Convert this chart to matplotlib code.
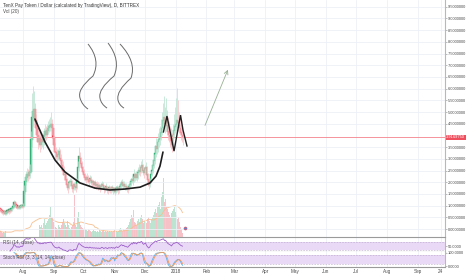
import numpy as np
import pandas as pd
import matplotlib
matplotlib.use('Agg')
import matplotlib.pyplot as plt
import matplotlib.dates as mdates
from matplotlib.path import Path
from matplotlib.patches import PathPatch

plt.rcParams['font.family'] = ['Liberation Sans', 'DejaVu Sans']

# daily candles, first day 2017-07-09
start = '2017-07-09'
first_open = 0.84
close = [0.82, 0.78, 0.74, 0.70, 0.72, 0.66, 0.70, 0.76, 0.74, 0.80, 0.78, 0.84, 0.88,
         0.95, 1.10, 1.05, 0.98, 0.92, 0.96, 0.90, 0.94, 0.98, 0.95, 1.00,
         1.60, 2.00, 2.20, 2.30, 2.25, 2.40, 2.45,
         3.80, 4.75, 5.00, 5.10,
         4.60, 4.30, 4.00, 3.70, 3.90, 3.60, 3.70, 3.80, 3.70, 4.00, 4.15,
         4.00, 4.20, 4.30, 4.35, 4.40, 4.45, 4.30,
         3.90, 3.60, 3.30, 3.25, 3.10, 3.15,
         3.30, 3.00, 2.90, 2.70, 2.50, 2.30,
         2.30, 2.10, 1.90, 1.75, 1.95, 2.00,
         2.00, 1.85, 1.70, 1.90, 1.80, 1.75, 2.00,
         2.60, 3.10, 3.00,
         2.80, 2.60, 2.45, 2.30, 2.20, 2.10,
         2.20, 2.10, 2.00, 2.15, 2.05, 1.95, 2.00, 1.90, 1.95,
         1.85, 1.90, 1.80, 1.85, 1.75, 1.80, 1.90, 1.85, 1.70, 1.75, 1.80, 1.70, 1.65, 1.75, 1.70,
         1.70, 1.75, 1.65, 1.70, 1.60, 1.70, 1.75, 1.65, 1.70, 1.80, 1.90, 1.95, 1.85, 1.90, 1.80,
         1.80, 1.75, 1.70, 1.80, 1.90, 2.00, 2.10, 2.05, 2.30, 2.20,
         2.30, 2.20, 2.40, 2.50, 2.45, 2.60, 2.70, 2.50, 2.40, 2.55,
         2.60, 2.30, 2.10, 1.90, 2.00, 2.30, 2.50,
         2.70, 2.90, 3.20, 3.50, 3.40, 3.70, 3.80, 3.90, 4.10, 4.30, 4.60, 4.75, 4.50, 4.60, 4.40,
         4.15, 4.00, 3.90, 3.75, 3.60, 4.00, 4.20, 4.35, 4.45, 4.60, 4.55, 4.40, 4.30, 4.10, 4.00, 3.917]
high = [0.90, 0.86, 0.80, 0.78, 0.80, 0.76, 0.76, 0.82, 0.82, 0.86, 0.86, 0.92, 0.96,
        1.05, 1.25, 1.18, 1.08, 1.00, 1.02, 0.98, 1.02, 1.05, 1.04, 1.10,
        1.90, 2.30, 2.50, 2.60, 2.55, 2.70, 2.80,
        4.20, 5.80, 6.10, 5.90,
        5.40, 4.90, 4.60, 4.30, 4.20, 4.10, 4.00, 4.10, 4.00, 4.30, 4.50,
        4.40, 4.50, 4.60, 4.70, 4.80, 5.00, 4.70,
        4.40, 4.00, 3.70, 3.50, 3.40, 3.40,
        3.50, 3.40, 3.20, 3.00, 2.90, 2.70,
        2.50, 2.40, 2.20, 2.00, 2.10, 2.20,
        2.20, 2.10, 1.95, 2.00, 2.00, 1.95, 2.20,
        2.90, 3.50, 3.30,
        3.10, 2.90, 2.70, 2.55, 2.40, 2.30,
        2.40, 2.30, 2.20, 2.30, 2.25, 2.15, 2.10, 2.05, 2.10,
        2.00, 2.05, 2.00, 1.95, 1.90, 1.95, 2.05, 2.00, 1.90, 1.85, 1.95, 1.85, 1.80, 1.90, 1.85,
        1.85, 1.90, 1.80, 1.80, 1.75, 1.85, 1.90, 1.80, 1.85, 1.95, 2.10, 2.15, 2.05, 2.05, 1.95,
        1.95, 1.90, 1.85, 1.95, 2.05, 2.20, 2.30, 2.25, 2.55, 2.45,
        2.50, 2.45, 2.65, 2.80, 2.70, 2.90, 3.00, 2.80, 2.65, 2.75,
        2.85, 2.70, 2.40, 2.20, 2.20, 2.50, 2.80,
        3.00, 3.20, 3.60, 3.90, 3.80, 4.10, 4.30, 4.40, 4.70, 5.00, 5.40, 5.70, 5.20, 5.60, 5.10,
        4.80, 4.60, 4.40, 4.30, 4.10, 4.50, 4.90, 5.20, 5.60, 6.05, 5.50, 5.00, 4.80, 4.60, 4.40, 4.20]
low = [0.72, 0.70, 0.66, 0.62, 0.64, 0.60, 0.60, 0.64, 0.68, 0.66, 0.70, 0.74, 0.78,
       0.84, 0.92, 0.95, 0.88, 0.85, 0.86, 0.84, 0.86, 0.90, 0.88, 0.92,
       0.95, 1.50, 1.90, 2.10, 2.05, 2.15, 2.20,
       2.40, 3.50, 4.40, 4.60,
       4.30, 4.00, 3.70, 3.40, 3.50, 3.30, 3.40, 3.50, 3.40, 3.60, 3.90,
       3.80, 3.90, 4.10, 4.15, 4.20, 4.20, 4.00,
       3.60, 3.30, 3.00, 3.00, 2.90, 2.95,
       3.00, 2.80, 2.70, 2.50, 2.30, 2.10,
       2.10, 1.85, 1.65, 1.55, 1.70, 1.85,
       1.80, 1.60, 1.55, 1.65, 1.65, 1.60, 1.70,
       1.95, 2.50, 2.70,
       2.60, 2.40, 2.25, 2.10, 2.05, 1.95,
       2.00, 1.95, 1.85, 1.95, 1.90, 1.80, 1.85, 1.75, 1.80,
       1.70, 1.75, 1.65, 1.70, 1.60, 1.65, 1.70, 1.70, 1.55, 1.60, 1.65, 1.55, 1.50, 1.60, 1.55,
       1.55, 1.60, 1.50, 1.55, 1.45, 1.55, 1.60, 1.50, 1.55, 1.65, 1.75, 1.80, 1.70, 1.75, 1.65,
       1.65, 1.60, 1.55, 1.65, 1.75, 1.85, 1.95, 1.90, 2.00, 2.05,
       2.10, 2.05, 2.15, 2.30, 2.25, 2.40, 2.45, 2.30, 2.20, 2.35,
       2.30, 2.05, 1.85, 1.70, 1.80, 1.95, 2.25,
       2.40, 2.60, 2.80, 3.10, 3.20, 3.30, 3.50, 3.60, 3.80, 4.00, 4.20, 4.30, 4.10, 4.20, 4.00,
       3.80, 3.70, 3.50, 3.40, 3.30, 3.50, 3.90, 4.10, 4.20, 4.30, 4.20, 4.10, 4.00, 3.80, 3.70, 3.60]
volume = [6, 5, 4, 5, 4, 6, 5, 4, 5, 4, 6, 5, 7,
          10, 14, 9, 7, 6, 5, 6, 5, 6, 5, 8,
          18, 20, 14, 12, 10, 12, 15,
          40, 55, 30, 22,
          25, 18, 15, 20, 14, 12, 10, 12, 9, 14, 18,
          12, 14, 16, 18, 22, 30, 20,
          20, 15, 12, 10, 9, 8,
          12, 10, 9, 12, 15, 18,
          14, 12, 10, 16, 12, 9,
          8, 10, 12, 15, 42, 12, 10,
          20, 25, 15,
          12, 10, 9, 8, 10, 8,
          7, 6, 8, 7, 6, 5, 6, 7, 6,
          6, 5, 6, 5, 7, 6, 5, 6, 7, 5, 6, 5, 6, 5, 6,
          5, 6, 5, 6, 7, 5, 6, 5, 6, 8, 9, 7, 6, 8, 7,
          8, 9, 10, 12, 15, 18, 22, 20, 27, 15,
          14, 12, 16, 18, 15, 20, 22, 18, 14, 16,
          15, 14, 18, 20, 16, 14, 18,
          20, 22, 25, 28, 24, 30, 32, 35, 28, 40, 45, 59, 35, 38, 30,
          28, 25, 22, 20, 24, 26, 28, 30, 25, 22, 18, 20, 15, 10, 8, 4]
last_price = 3.9169750

# hand drawn marks: (days after 2017-08-01, price)
cup_days = [12.0, 22.1, 32.1, 42.1, 57.2, 72.2, 87.3, 102.3, 117.4, 127.4, 133.4, 137.4, 140.4]
cup_price = [4.70, 3.72, 2.95, 2.44, 1.97, 1.75, 1.67, 1.71, 1.79, 1.97, 2.26, 2.69, 3.29]
zig_days = [140.9, 144.4, 151.5, 158.0, 160.5, 164.5]
zig_price = [4.15, 4.83, 3.33, 4.87, 4.23, 3.55]
steam = [
    ([65.2, 78.2, 70.2, 54.2, 57.2, 59.2, 65.2], [7.91, 7.22, 6.54, 5.98, 5.60, 5.30, 5.13]),
    ([85.3, 98.3, 91.3, 75.2, 77.2, 78.2, 84.3], [7.95, 7.22, 6.54, 5.98, 5.60, 5.34, 5.17]),
    ([97.3, 114.3, 108.3, 93.3, 95.3, 96.3, 101.3], [7.91, 7.14, 6.45, 5.90, 5.51, 5.30, 5.17]),
]
arrow_days = [181.5, 206.6]
arrow_price = [4.32, 6.92]

month_ticks = ['2017-08-01', '2017-09-01', '2017-10-01', '2017-11-01', '2017-12-01', '2018-01-01',
               '2018-02-01', '2018-03-01', '2018-04-01', '2018-05-01', '2018-06-01', '2018-07-01',
               '2018-08-01', '2018-09-01', '2018-09-24']
month_labels = ['Aug', 'Sep', 'Oct', 'Nov', 'Dec', '2018', 'Feb', 'Mar', 'Apr', 'May', 'Jun', 'Jul',
                'Aug', 'Sep', '24']
price_ticks = [0.0, 0.5, 1.0, 1.5, 2.0, 2.5, 3.0, 3.5, 4.5, 5.0, 5.5, 6.0, 6.5, 7.0, 7.5, 8.0, 8.5, 9.0, 9.5]

GREEN = '#2fb077'
RED = '#ef3f52'
WICK_G = '#b5e2cc'
WICK_R = '#f7bcc1'
GRID = '#edf1f7'
TXT = '#4a4a4a'
FS = 3.3
AFS = 2.9
NARROW = ['Liberation Sans Narrow', 'Liberation Sans', 'DejaVu Sans']

dates = pd.date_range(start, periods=len(close), freq='D')
x = mdates.date2num(dates)
c = np.array(close)
o = np.r_[first_open, c[:-1]]
up = c >= o
cols = np.where(up, GREEN, RED)
wcols = np.where(up, WICK_G, WICK_R)
base = mdates.date2num(pd.Timestamp('2017-08-01'))
xlim = (base - 23.07, base + 423.3)

W, H = 466, 275
fig = plt.figure(figsize=(W / 100, H / 100), dpi=100)
ax = fig.add_axes([0, 38 / H, 445 / W, 237 / H])
axr = fig.add_axes([0, 23 / H, 445 / W, 15 / H], sharex=ax)
axs = fig.add_axes([0, 8 / H, 445 / W, 15 / H], sharex=ax)

# volume behind candles
axv = ax.twinx()
axv.bar(x, volume, width=0.9, color=wcols, alpha=0.9, linewidth=0)
vma = pd.Series(volume, dtype=float).rolling(20, min_periods=1).mean()
axv.plot(x, vma, color='#f7bf8f', lw=0.6)
axv.set_ylim(0, 237)
axv.set_yticks([])
for s in axv.spines.values():
    s.set_visible(False)
ax.set_zorder(axv.get_zorder() + 1)
ax.patch.set_visible(False)

# candles
ax.axhline(last_price, color='#f5939c', lw=0.7)
ax.vlines(x, low, high, colors=wcols, lw=0.5)
ax.bar(x, np.abs(c - o) + 0.04, bottom=np.minimum(o, c), width=1.2, color=cols,
       edgecolor=cols, linewidth=0.3)

# drawings
ax.plot(base + np.array(cup_days), cup_price, color='#1e1e1e', lw=1.2, solid_joinstyle='round', solid_capstyle='round')
ax.plot(base + np.array(zig_days), zig_price, color='#1e1e1e', lw=1.0, solid_joinstyle='miter')
codes = [Path.MOVETO, Path.CURVE3, Path.CURVE3, Path.CURVE3, Path.CURVE3, Path.CURVE3, Path.CURVE3]
for sd, sp in steam:
    path = Path(np.column_stack([base + np.array(sd), sp]), codes)
    ax.add_patch(PathPatch(path, fill=False, edgecolor='#6a6a6a', lw=0.7))
ax.annotate('', xy=(base + arrow_days[1], arrow_price[1]), xytext=(base + arrow_days[0], arrow_price[0]),
            arrowprops=dict(arrowstyle='->', color='#98b094', lw=0.6, mutation_scale=7))
ax.plot(x[-1] + 2, 0.05, 'o', ms=2.2, color='#4a90e2', mec='#e05060', mew=0.4)

ax.set_xlim(*xlim)
ax.set_ylim(-0.34, 9.79)
ax.yaxis.tick_right()
ax.set_yticks(price_ticks)
ax.set_yticklabels(['%.7f' % v for v in price_ticks])
ax.text(1.003, last_price, '%.7f' % last_price, transform=ax.get_yaxis_transform(), fontsize=AFS,
        family=NARROW, color='white', va='center', ha='left',
        bbox=dict(boxstyle='square,pad=0.2', fc='#f04e5d', ec='none'))

mt = [mdates.date2num(pd.Timestamp(d)) for d in month_ticks]
for a in (ax, axr, axs):
    a.set_xticks(mt)
    a.grid(True, color=GRID, lw=0.6)
    a.set_axisbelow(True)
    a.tick_params(axis='both', labelsize=FS, colors=TXT, length=1.2, width=0.4, pad=0.8)
    a.tick_params(axis='y', colors='#8a8a8a', labelcolor=TXT, labelsize=AFS, pad=0.6)
    a.tick_params(axis='x', length=0)
    for s in ('top', 'left'):
        a.spines[s].set_visible(False)
    a.spines['right'].set_color('#b8b8b8')
    a.spines['right'].set_linewidth(0.8)
    a.spines['bottom'].set_color('#9a9a9a')
    a.spines['bottom'].set_linewidth(0.8)
    for t in a.get_yticklabels():
        t.set_family(NARROW)
plt.setp(ax.get_xticklabels(), visible=False)
plt.setp(axr.get_xticklabels(), visible=False)
axs.set_xticklabels(month_labels)
axs.tick_params(axis='x', pad=1.5)

# RSI (14)
cs = pd.Series(close)
delta = cs.diff()
gain = delta.clip(lower=0).ewm(alpha=1 / 14, adjust=False).mean()
loss = (-delta.clip(upper=0)).ewm(alpha=1 / 14, adjust=False).mean()
rsi = 100 - 100 / (1 + gain / loss)
rsi[:10] = np.nan
axr.axhspan(30, 70, color='#ead9f6', lw=0)
axr.axhline(30, color='#b8a6c8', lw=0.4, ls=(0, (3, 2)))
axr.axhline(70, color='#b8a6c8', lw=0.4, ls=(0, (3, 2)))
axr.plot(x, rsi, color='#9b5fc7', lw=0.6)
axr.set_ylim(22, 92)
axr.yaxis.tick_right()
axr.set_yticks([50])
axr.set_yticklabels(['50.0000'], family=NARROW)
axr.grid(False, axis='y')
axr.text(0.006, 0.62, 'RSI (14, close)', transform=axr.transAxes, fontsize=FS, color=TXT, va='center')

# Stoch RSI (3, 3, 14, 14)
lo = rsi.rolling(14, min_periods=3).min()
hi = rsi.rolling(14, min_periods=3).max()
k = (100 * (rsi - lo) / (hi - lo)).rolling(3).mean()
d = k.rolling(3).mean()
axs.axhspan(20, 80, color='#ead9f6', lw=0)
axs.axhline(20, color='#b8a6c8', lw=0.4, ls=(0, (3, 2)))
axs.axhline(80, color='#b8a6c8', lw=0.4, ls=(0, (3, 2)))
axs.plot(x, k, color='#5ab4ec', lw=0.6)
axs.plot(x, d, color='#f29a55', lw=0.6)
axs.set_ylim(-4, 104)
axs.yaxis.tick_right()
axs.set_yticks([0, 100])
axs.set_yticklabels(['0.0000', '100.0000'], family=NARROW)
axs.grid(False, axis='y')
axs.text(0.006, 0.65, 'Stoch RSI (3, 3, 14, 14, close)', transform=axs.transAxes, fontsize=FS, color=TXT, va='center')

fig.text(3 / W, 1 - 5 / H, 'TenX Pay Token / Dollar (calculated by TradingView), D, BITTREX',
         fontsize=FS, color='#333333', va='center')
fig.text(3 / W, 1 - 12 / H, 'Vol (20)', fontsize=FS, color=TXT, va='center')

fig.savefig('out.png', dpi=100, facecolor='white')
